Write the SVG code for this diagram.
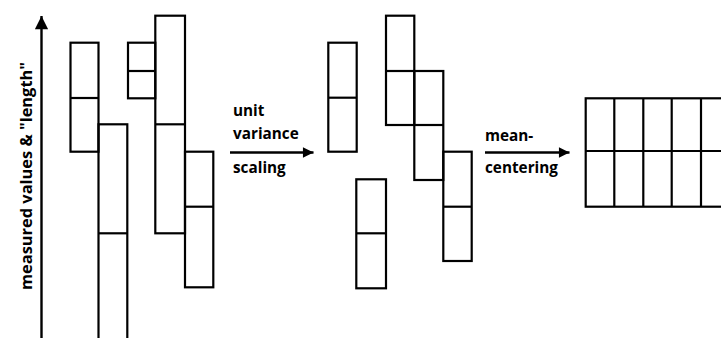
<svg xmlns="http://www.w3.org/2000/svg" width="721" height="338" viewBox="0 0 721 338">
<defs>
<style>
.b{fill:none;stroke:#000;stroke-width:2.2}
.c{fill:none;stroke:#000;stroke-width:2.4}
.t{font-family:"Open Sans","Liberation Sans",Arial,sans-serif;font-weight:bold;font-size:15.3px;fill:#000}
</style>
<marker id="ah" viewBox="0 0 10 10" refX="10" refY="5" markerWidth="6.5" markerHeight="4.4" markerUnits="strokeWidth" orient="auto">
<path d="M0,0 L10,5 L0,10 Z" fill="#000"/>
</marker>
<marker id="av" viewBox="0 0 10 10" refX="10" refY="5" markerWidth="7.5" markerHeight="5.5" markerUnits="strokeWidth" orient="auto">
<path d="M0,0 L10,5 L0,10 Z" fill="#000"/>
</marker>
</defs>
<g id="connectors">
<line class="c" x1="41.5" y1="340" x2="41.5" y2="16" stroke-width="2" marker-end="url(#av)"/>
<line class="c" x1="230" y1="152.5" x2="313.5" y2="152.5" marker-end="url(#ah)"/>
<line class="c" x1="485" y1="152.5" x2="569.5" y2="152.5" marker-end="url(#ah)"/>
</g>
<g id="axis-label">
<text class="t" transform="translate(32,176) rotate(-90)" text-anchor="middle" textLength="228" lengthAdjust="spacingAndGlyphs">measured values &amp; "length"</text>
</g>
<g id="label-scaling">
<text class="t" x="233" y="115.5">unit</text>
<text class="t" x="233" y="139">variance</text>
<text class="t" x="233" y="173">scaling</text>
</g>
<g id="label-centering">
<text class="t" x="485" y="141">mean-</text>
<text class="t" x="485" y="173">centering</text>
</g>
<g id="raw-1"><rect class="b" x="70.5" y="42.7" width="28" height="109"/><line class="b" x1="70.5" y1="98" x2="98.5" y2="98"/></g>
<g id="raw-2"><rect class="b" x="98.5" y="124.3" width="28.8" height="230"/><line class="b" x1="98.5" y1="233.3" x2="127.3" y2="233.3"/></g>
<g id="raw-3"><rect class="b" x="128" y="42.7" width="27.3" height="55.6"/><line class="b" x1="128" y1="71" x2="155.3" y2="71"/></g>
<g id="raw-4"><rect class="b" x="155.3" y="15.7" width="29.7" height="217.6"/><line class="b" x1="155.3" y1="124.3" x2="185" y2="124.3"/></g>
<g id="raw-5"><rect class="b" x="185" y="151.7" width="28.3" height="135.6"/><line class="b" x1="185" y1="206.7" x2="213.3" y2="206.7"/></g>
<g id="uv-1"><rect class="b" x="328.3" y="42.7" width="28.4" height="109"/><line class="b" x1="328.3" y1="97.7" x2="356.7" y2="97.7"/></g>
<g id="uv-2"><rect class="b" x="356.3" y="179.3" width="29.7" height="109"/><line class="b" x1="356.3" y1="233.3" x2="386" y2="233.3"/></g>
<g id="uv-3"><rect class="b" x="386" y="15.7" width="28.3" height="109.3"/><line class="b" x1="386" y1="71" x2="414.3" y2="71"/></g>
<g id="uv-4"><rect class="b" x="414.3" y="71" width="29" height="109"/><line class="b" x1="414.3" y1="125" x2="443.3" y2="125"/></g>
<g id="uv-5"><rect class="b" x="443.3" y="151.7" width="28.4" height="109.3"/><line class="b" x1="443.3" y1="206.7" x2="471.7" y2="206.7"/></g>
<g id="mc-grid">
<rect class="b" x="585.7" y="98.3" width="150" height="108.4"/>
<line class="b" x1="585.7" y1="151" x2="725" y2="151"/>
<line class="b" x1="614.3" y1="98.3" x2="614.3" y2="206.7"/>
<line class="b" x1="643.3" y1="98.3" x2="643.3" y2="206.7"/>
<line class="b" x1="671.7" y1="98.3" x2="671.7" y2="206.7"/>
<line class="b" x1="701" y1="98.3" x2="701" y2="206.7"/>
</g>
</svg>
